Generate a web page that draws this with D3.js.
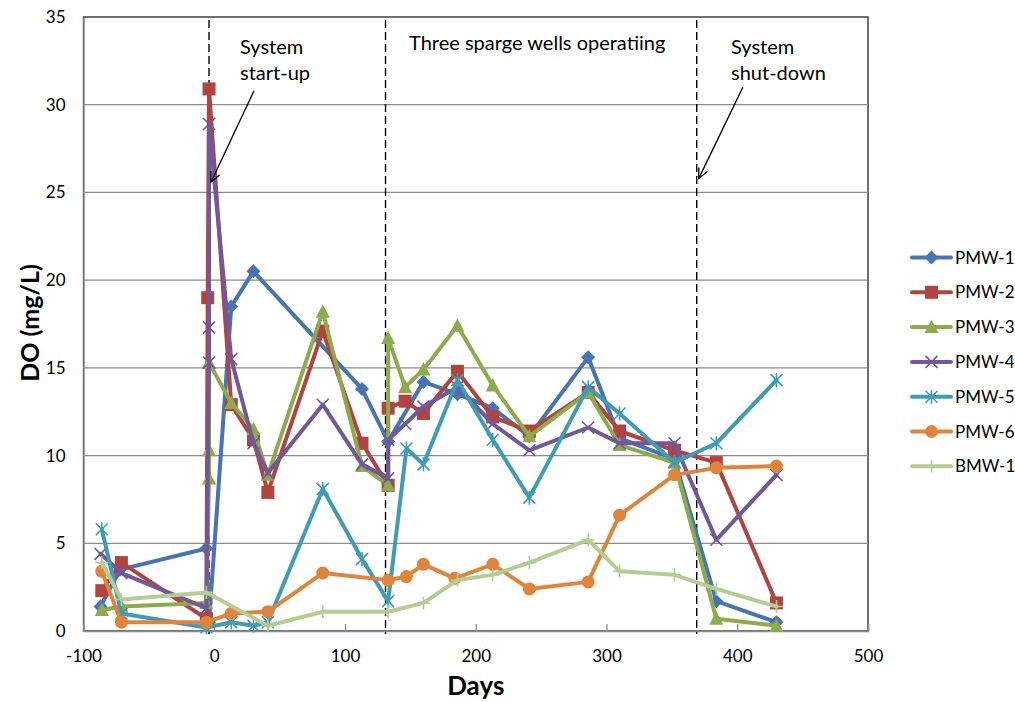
<!DOCTYPE html>
<html><head><meta charset="utf-8">
<script src="https://cdn.jsdelivr.net/npm/d3@7"></script>
<style>
body{margin:0;background:#fff}
svg{display:block}
text{font-family:Lato,"Open Sans",sans-serif;fill:#000}
</style>
</head><body>
<svg id="c" width="1015" height="702"></svg>
<script>
// ---- data (day, DO mg/L) ----
const xTicks = [-100, 0, 100, 200, 300, 400, 500];
const yTicks = [0, 5, 10, 15, 20, 25, 30, 35];
const seriesNames = ["PMW-1", "PMW-2", "PMW-3", "PMW-4", "PMW-5", "PMW-6", "BMW-1"];
const PMW1 = [[-87,1.4],[-72,3.5],[-6,4.7],[-4,0.5],[13,18.5],[30,20.5],[113,13.8],[133,10.8],[160,14.2],[186,13.5],[213,12.7],[241,11.1],[286,15.6],[310,11.0],[352,9.8],[384,1.7],[430,0.5]];
const PMW2 = [[-86,2.3],[-71,3.9],[-6,0.7],[-5,19.0],[-4,30.9],[13,12.9],[30,10.9],[41,7.9],[83,17.1],[113,10.7],[133,8.3],[133,12.7],[146,13.1],[160,12.4],[186,14.8],[213,12.2],[241,11.4],[286,13.6],[310,11.4],[352,10.3],[384,9.6],[430,1.6]];
const PMW3 = [[-86,1.2],[-71,1.4],[-6,1.6],[-4,8.7],[-4,10.3],[-4,15.3],[13,13.0],[30,11.5],[41,8.9],[83,18.2],[113,9.4],[133,8.3],[133,16.7],[146,13.9],[160,14.9],[186,17.4],[213,14.0],[241,11.1],[286,13.6],[310,10.6],[352,9.6],[384,0.7],[430,0.3]];
const PMW4 = [[-87,4.4],[-71,3.3],[-6,1.3],[-4,15.3],[-4,17.3],[-4,28.9],[13,15.5],[30,10.7],[41,9.0],[83,12.9],[113,9.5],[133,8.7],[133,10.9],[146,11.8],[160,12.8],[186,13.9],[213,11.8],[241,10.3],[286,11.6],[310,10.7],[352,10.7],[384,5.2],[430,8.9]];
const PMW5 = [[-86,5.8],[-71,1.0],[-6,0.2],[13,0.5],[30,0.3],[41,0.5],[83,8.1],[113,4.1],[133,1.7],[147,10.4],[160,9.5],[186,14.3],[213,10.9],[241,7.6],[286,13.9],[310,12.4],[352,9.6],[384,10.7],[430,14.3]];
const PMW6 = [[-86,3.4],[-71,0.5],[-6,0.5],[13,1.0],[41,1.1],[83,3.3],[133,2.9],[147,3.1],[160,3.8],[184,3.0],[213,3.8],[241,2.4],[286,2.8],[310,6.6],[352,8.9],[384,9.3],[430,9.4]];
const BMW1 = [[-86,3.9],[-71,1.8],[-6,2.2],[41,0.3],[83,1.1],[133,1.1],[160,1.6],[186,2.9],[213,3.2],[241,3.9],[286,5.2],[310,3.4],[352,3.2],[384,2.4],[430,1.4]];
const eventDays = [-4, 131, 369];

const seriesData = [PMW1, PMW2, PMW3, PMW4, PMW5, PMW6, BMW1];
const colors = ["#4674B4", "#B2433F", "#8DAB4C", "#71589A", "#3F9CB6", "#E0843C", "#B5CC93"];
const markers = ["diamond", "square", "triangle", "x", "star", "circle", "plus"];

const svg = d3.select("#c");
const L = 83.5, R = 868, T = 17, B = 631;
const x = d3.scaleLinear().domain([-100, 500]).range([L, R]);
const y = d3.scaleLinear().domain([0, 35]).range([B, T]);

// plot border
svg.append("rect").attr("x", L).attr("y", T).attr("width", R - L).attr("height", B - T)
  .attr("fill", "none").attr("stroke", "#222").attr("stroke-width", 1.3);

// gridlines
svg.append("g").selectAll("line").data(yTicks.filter(v => v > 0 && v < 35)).join("line")
  .attr("x1", L).attr("x2", R).attr("y1", d => y(d)).attr("y2", d => y(d))
  .attr("stroke", "#8c8c8c").attr("stroke-width", 1.3);

// axes
const yAxis = d3.axisLeft(y).tickValues(yTicks).tickSize(0).tickPadding(18).tickFormat(d => String(d));
const gy = svg.append("g").attr("transform", `translate(${L},0)`).call(yAxis);
gy.select(".domain").attr("stroke", "#8c8c8c").attr("stroke-width", 1.5);
gy.selectAll("text").attr("font-size", 17).attr("font-family", "Lato").attr("fill", "#000");

const xAxis = d3.axisBottom(x).tickValues(xTicks).tickSize(-7).tickPadding(19).tickFormat(d => String(d));
const gx = svg.append("g").attr("transform", `translate(0,${B})`).call(xAxis);
gx.select(".domain").attr("stroke", "#8c8c8c").attr("stroke-width", 1.5);
gx.selectAll(".tick line").attr("stroke", "#8c8c8c").attr("stroke-width", 1.3);
gx.selectAll("text").attr("font-size", 17).attr("font-family", "Lato").attr("fill", "#000");

// event dashed lines
svg.append("g").selectAll("line").data(eventDays).join("line")
  .attr("x1", d => x(d)).attr("x2", d => x(d)).attr("y1", T + 3).attr("y2", B + 3)
  .attr("stroke", "#000").attr("stroke-width", 1.4).attr("stroke-dasharray", "8,4");

// marker drawing
function drawMarker(g, type, color) {
  switch (type) {
    case "diamond": g.append("path").attr("d", "M0,-7L7,0L0,7L-7,0Z").attr("fill", color); break;
    case "square": g.append("rect").attr("x", -6.5).attr("y", -6.5).attr("width", 13).attr("height", 13).attr("fill", color); break;
    case "triangle": g.append("path").attr("d", "M0,-7.5L7,6L-7,6Z").attr("fill", color); break;
    case "x": g.append("path").attr("d", "M-6,-6L6,6M-6,6L6,-6").attr("stroke", color).attr("stroke-width", 1.6).attr("fill", "none"); break;
    case "star": g.append("path").attr("d", "M-6,-6L6,6M-6,6L6,-6M0,-7L0,7").attr("stroke", color).attr("stroke-width", 1.6).attr("fill", "none"); break;
    case "circle": g.append("circle").attr("r", 6.5).attr("fill", color); break;
    case "plus": g.append("path").attr("d", "M-6.5,0L6.5,0M0,-6.5L0,6.5").attr("stroke", color).attr("stroke-width", 1.6).attr("fill", "none"); break;
  }
}

const line = d3.line().x(d => x(d[0])).y(d => y(d[1]));
seriesData.forEach((data, i) => {
  const g = svg.append("g");
  g.append("path").datum(data).attr("d", line).attr("fill", "none")
    .attr("stroke", colors[i]).attr("stroke-width", 4).attr("stroke-linejoin", "round").attr("stroke-linecap", "round");
  data.forEach(d => {
    const m = g.append("g").attr("transform", `translate(${x(d[0])},${y(d[1])})`);
    drawMarker(m, markers[i], colors[i]);
  });
});

// legend
const leg = svg.append("g");
seriesNames.forEach((name, i) => {
  const yy = 257.5 + i * 34.8;
  leg.append("line").attr("x1", 912).attr("x2", 951).attr("y1", yy).attr("y2", yy)
    .attr("stroke", colors[i]).attr("stroke-width", 4).attr("stroke-linecap", "round");
  const m = leg.append("g").attr("transform", `translate(931.5,${yy})`);
  drawMarker(m, markers[i], colors[i]);
  leg.append("text").attr("x", 955).attr("y", yy).attr("dy", "0.36em").attr("font-size", 17).text(name);
});

// axis titles
svg.append("text").attr("x", x(200)).attr("y", 695).attr("text-anchor", "middle")
  .attr("font-size", 26).attr("font-weight", "bold").text("Days");
svg.append("text").attr("transform", "translate(30,323) rotate(-90)").attr("text-anchor", "middle")
  .attr("dy", "0.35em").attr("font-size", 25).attr("font-weight", "bold").text("DO (mg/L)");

// annotations
const ann = svg.append("g").attr("font-size", 20);
ann.append("text").attr("x", 240).attr("y", 54).text("System");
ann.append("text").attr("x", 240).attr("y", 80).text("start-up");
ann.append("text").attr("x", 409).attr("y", 50).text("Three sparge wells operatiing");
ann.append("text").attr("x", 731).attr("y", 54).text("System");
ann.append("text").attr("x", 731).attr("y", 80).text("shut-down");

function arrow(x1, y1, x2, y2) {
  const g = svg.append("g").attr("stroke", "#000").attr("stroke-width", 1.3).attr("fill", "none");
  g.append("line").attr("x1", x1).attr("y1", y1).attr("x2", x2).attr("y2", y2);
  const a = Math.atan2(y2 - y1, x2 - x1), len = 11, sp = 0.45;
  g.append("path").attr("d",
    `M${x2 - len * Math.cos(a - sp)},${y2 - len * Math.sin(a - sp)}L${x2},${y2}L${x2 - len * Math.cos(a + sp)},${y2 - len * Math.sin(a + sp)}`);
}
arrow(x(30.4), y(30.8), x(-2.4), y(25.6));
arrow(x(404.3), y(31.0), x(370.6), y(25.8));
</script>
</body></html>
